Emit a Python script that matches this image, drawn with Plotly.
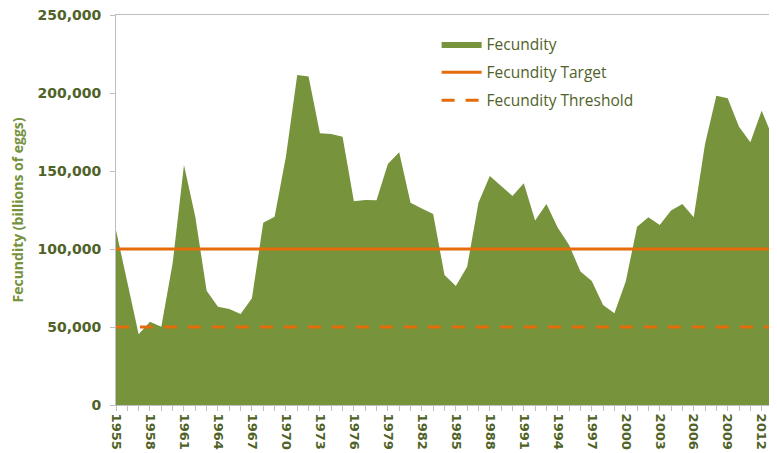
import plotly.graph_objects as go

years = list(range(1955, 2014))
fecundity = [
    112000, 79000, 45300, 53400, 50200, 90800, 153900, 120700, 73300, 63000,
    61500, 58300, 68400, 116900, 120700, 159200, 211600, 210500, 174200, 173700,
    172000, 130600, 131400, 131200, 154500, 162000, 129700, 125900, 122400, 83300,
    76300, 88700, 129700, 146800, 140600, 134000, 142100, 118200, 128900, 113700,
    102600, 85500, 79500, 64100, 58800, 79100, 114300, 120300, 115400, 124600,
    128900, 120300, 167300, 198300, 196600, 178400, 168400, 188700, 171000,
]
target = 100000
threshold = 50000
tick_years = list(range(1955, 2013, 3))

C = {
    "fill": "#77933C",
    "orange": "#E46C0A",
    "text": "#4F6228",
    "title": "#76923C",
    "axis": "#BFBFBF",
}
FONT = "Open Sans, Liberation Sans, sans-serif"
TICKFONT = "DejaVu Sans, sans-serif"

fig = go.Figure()
fig.add_trace(go.Scatter(
    x=years, y=fecundity, name="Fecundity", mode="lines", legendgroup="a",
    line=dict(width=0, color=C["fill"]), fill="tozeroy", fillcolor=C["fill"],
))
fig.add_trace(go.Scatter(
    x=[years[0], years[-1]], y=[target, target], name="Fecundity Target",
    mode="lines", legendgroup="b", line=dict(color=C["orange"], width=3),
))
fig.add_trace(go.Scatter(
    x=[years[0], years[-1]], y=[threshold, threshold], name="Fecundity Threshold",
    mode="lines", legendgroup="c",
    line=dict(color=C["orange"], width=3, dash="13px,11px"),
))

# the page body adds an 8px offset, so the figure is sized to fit inside it
fig.update_layout(
    width=769, height=445,
    paper_bgcolor="white", plot_bgcolor="white",
    font=dict(family=FONT, color=C["text"], size=14),
    margin=dict(l=108, r=4, t=7, b=48),
    showlegend=True,
    legend=dict(x=0.488, y=0.968, xanchor="left", yanchor="top", itemwidth=40,
                tracegroupgap=5,
                bgcolor="rgba(0,0,0,0)", font=dict(size=15.5, color=C["text"])),
)
fig.update_xaxes(
    range=[1955, 2013], tickvals=tick_years, ticktext=[str(y) for y in tick_years],
    tickangle=90, tickfont=dict(size=13, color=C["text"], family=TICKFONT, weight="bold"),
    showgrid=False, zeroline=False, showline=True, linecolor=C["axis"], mirror=True,
    ticks="outside", ticklen=5, tickcolor=C["axis"], automargin=False,
    ticklabeloverflow="allow",
    minor=dict(ticks="outside", dtick=1, tick0=1955, ticklen=5, tickcolor=C["axis"]),
)
fig.update_yaxes(
    range=[0, 250000], dtick=50000, tickformat=",",
    tickfont=dict(size=14, color=C["text"], family=TICKFONT, weight="bold"),
    ticklabelstandoff=6, ticklabeloverflow="allow",
    title=dict(text="Fecundity (billions of eggs)",
               font=dict(size=14, color=C["title"], family=FONT, weight="bold"),
               standoff=13),
    showgrid=False, zeroline=False, showline=True, linecolor=C["axis"], mirror=True,
    ticks="outside", ticklen=5, tickcolor=C["axis"], automargin=False,
)

fig.write_html("out.html")
